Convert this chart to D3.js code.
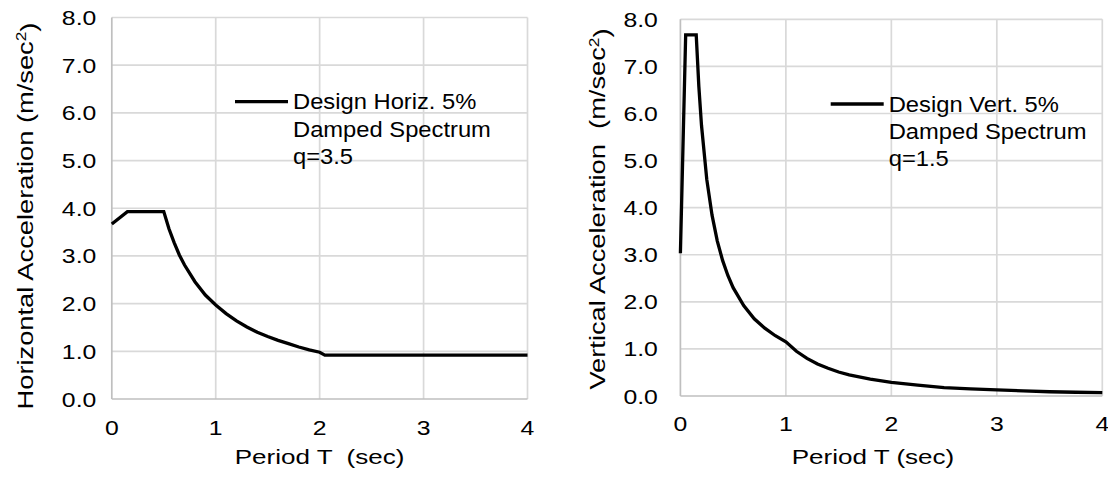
<!DOCTYPE html>
<html>
<head>
<meta charset="utf-8">
<script src="https://cdn.jsdelivr.net/npm/d3@7"></script>
<style>
  body { margin: 0; background: #fff; }
  text { font-family: "Liberation Sans", Arial, sans-serif; fill: #000; }
</style>
</head>
<body>
<script>
// datos
var xTicks = [0, 1, 2, 3, 4];
var yTicks = [0, 1, 2, 3, 4, 5, 6, 7, 8];

var horizPeriod = [0, 0.15, 0.5, 0.55, 0.6, 0.65, 0.7, 0.8, 0.9, 1.0, 1.1, 1.2, 1.3, 1.4, 1.5, 1.6, 1.7, 1.8, 1.9, 2.0, 2.05, 4.0];
var horizAccel = [3.67, 3.93, 3.93, 3.57, 3.28, 3.02, 2.81, 2.46, 2.18, 1.97, 1.79, 1.64, 1.51, 1.40, 1.31, 1.23, 1.16, 1.09, 1.03, 0.98, 0.92, 0.92];

var vertPeriod = [0, 0.05, 0.15, 0.175, 0.2, 0.25, 0.3, 0.35, 0.4, 0.45, 0.5, 0.6, 0.7, 0.8, 0.9, 1.0, 1.1, 1.2, 1.3, 1.4, 1.5, 1.6, 1.8, 2.0, 2.25, 2.5, 2.75, 3.0, 3.25, 3.5, 3.75, 4.0];
var vertAccel = [3.03, 7.67, 7.67, 6.57, 5.75, 4.60, 3.84, 3.29, 2.88, 2.56, 2.30, 1.92, 1.64, 1.44, 1.28, 1.15, 0.95, 0.80, 0.68, 0.59, 0.51, 0.45, 0.36, 0.29, 0.23, 0.18, 0.15, 0.13, 0.11, 0.09, 0.08, 0.07];

var horizLegend = ["Design Horiz. 5%", "Damped Spectrum", "q=3.5"];
var vertLegend = ["Design Vert. 5%", "Damped Spectrum", "q=1.5"];

var svg = d3.select("body").append("svg").attr("width", 1108).attr("height", 479);

// el original esta estirado en horizontal, por eso el scale en los textos
function texto(g, x, y, sx, size, anchor, txt) {
    return g.append("text")
        .attr("transform", `translate(${x},${y}) scale(${sx},1)`)
        .attr("text-anchor", anchor).style("font-size", size + "px")
        .attr("xml:space", "preserve").style("white-space", "pre")
        .text(txt);
}

function dibujarPanel(cfg) {
    var x = d3.scaleLinear().domain([0, 4]).range([cfg.x0, cfg.x1]);
    var y = d3.scaleLinear().domain([0, 8]).range([cfg.y0, cfg.y1]);
    var g = svg.append("g");

    // rejilla
    g.selectAll(".gy").data(yTicks.filter(d => d > 0)).enter().append("line")
        .attr("x1", cfg.x0).attr("x2", cfg.x1)
        .attr("y1", d => y(d)).attr("y2", d => y(d))
        .attr("stroke", "#d9d9d9").attr("stroke-width", 1.7);
    g.selectAll(".gx").data(xTicks.filter(d => d > 0)).enter().append("line")
        .attr("x1", d => x(d)).attr("x2", d => x(d))
        .attr("y1", cfg.y0).attr("y2", y(8))
        .attr("stroke", "#d9d9d9").attr("stroke-width", 1.7);

    // ejes
    g.append("line").attr("x1", cfg.x0).attr("x2", cfg.x0).attr("y1", cfg.y0).attr("y2", y(8))
        .attr("stroke", "#bfbfbf").attr("stroke-width", 1.7);
    g.append("line").attr("x1", cfg.x0).attr("x2", cfg.x1).attr("y1", cfg.y0).attr("y2", cfg.y0)
        .attr("stroke", "#bfbfbf").attr("stroke-width", 1.7);

    // etiquetas
    yTicks.forEach(d => {
        texto(g, cfg.x0 - cfg.yGap, y(d) + 7.5, 1.18, 21, "end", d3.format(".1f")(d));
    });
    xTicks.forEach(d => {
        texto(g, x(d), cfg.tickY, 1.18, 21, "middle", String(d));
    });

    // curva
    var puntos = cfg.periodo.map((t, i) => [t, cfg.acel[i]]);
    g.append("path").datum(puntos)
        .attr("d", d3.line().x(d => x(d[0])).y(d => y(d[1])))
        .attr("fill", "none").attr("stroke", "#000").attr("stroke-width", 3.3)
        .attr("stroke-linejoin", "miter");

    // leyenda
    g.append("line").attr("x1", cfg.legX).attr("x2", cfg.legX + 53)
        .attr("y1", cfg.legY).attr("y2", cfg.legY)
        .attr("stroke", "#000").attr("stroke-width", 3.3);
    cfg.leyenda.forEach((d, i) => {
        texto(g, cfg.legX + 58, cfg.legY + 7.7 + i * 27.2, 1.08, 22, "start", d);
    });

    // titulos
    texto(g, cfg.xTitleX, 464, 1.24, 21, "middle", cfg.xTitle);
    var ty = g.append("text")
        .attr("transform", `translate(${cfg.yTitleX},${cfg.yTitleY}) rotate(-90) scale(1.24,1)`)
        .attr("text-anchor", "middle").style("font-size", "22px")
        .attr("xml:space", "preserve").style("white-space", "pre");
    ty.append("tspan").text(cfg.yTitle + " (m/sec");
    ty.append("tspan").attr("dy", "-0.45em").style("font-size", "14px").text("2");
    ty.append("tspan").attr("dy", "0.45em").text(")");
}

dibujarPanel({
    x0: 111.8, x1: 527.5, y0: 399, y1: 17.5, yGap: 15.5, tickY: 435,
    periodo: horizPeriod, acel: horizAccel, leyenda: horizLegend,
    legX: 235, legY: 101.7,
    xTitle: "Period T  (sec)", xTitleX: 319.5,
    yTitle: "Horizontal Acceleration", yTitleX: 32.5, yTitleY: 216
});

dibujarPanel({
    x0: 680.4, x1: 1102.3, y0: 396, y1: 19.3, yGap: 22.5, tickY: 431,
    periodo: vertPeriod, acel: vertAccel, leyenda: vertLegend,
    legX: 830.7, legY: 104,
    xTitle: "Period T (sec)", xTitleX: 873,
    yTitle: "Vertical Acceleration ", yTitleX: 605, yTitleY: 209
});
</script>
</body>
</html>
